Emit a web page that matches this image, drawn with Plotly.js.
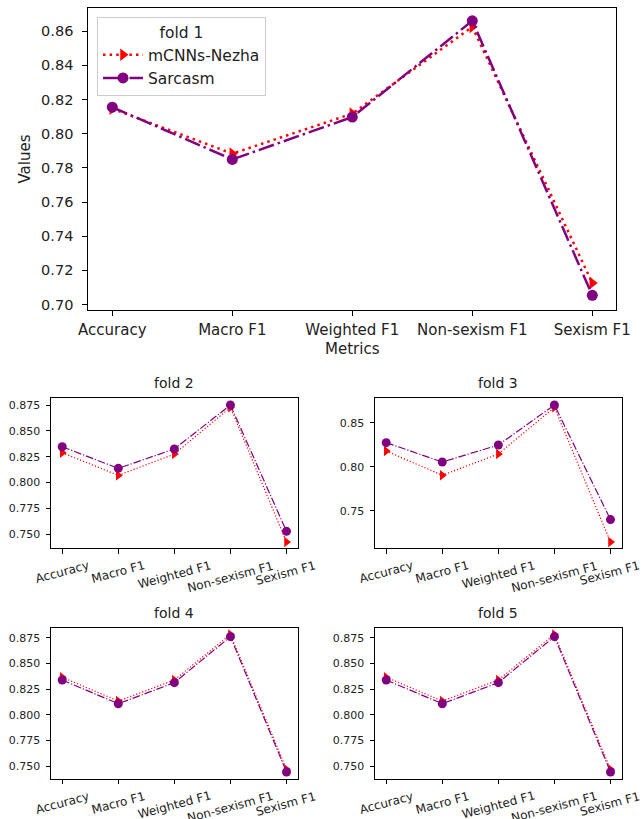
<!DOCTYPE html>
<html><head><meta charset="utf-8">
<script src="https://cdn.plot.ly/plotly-3.0.1.min.js"></script>
<style>html,body{margin:0;padding:0;background:#fff;} #chart{width:644px;height:819px;}</style>
</head><body><div id="chart"></div>
<script>
const metrics = ["Accuracy", "Macro F1", "Weighted F1", "Non-sexism F1", "Sexism F1"];
const seriesNames = ["mCNNs-Nezha", "Sarcasm"];
const foldTitles = ["fold 1", "fold 2", "fold 3", "fold 4", "fold 5"];

const fold1_mcnns   = [0.8146, 0.7883, 0.8117, 0.8625, 0.7126];
const fold1_sarcasm = [0.8155, 0.7849, 0.8097, 0.8660, 0.7054];
const fold2_mcnns   = [0.8289, 0.8070, 0.8276, 0.8727, 0.7426];
const fold2_sarcasm = [0.8347, 0.8138, 0.8325, 0.8750, 0.7529];
const fold3_mcnns   = [0.8178, 0.7902, 0.8144, 0.8674, 0.7144];
const fold3_sarcasm = [0.8273, 0.8053, 0.8246, 0.8701, 0.7398];
const fold4_mcnns   = [0.8364, 0.8133, 0.8338, 0.8782, 0.7468];
const fold4_sarcasm = [0.8338, 0.8107, 0.8312, 0.8760, 0.7442];
const fold5_mcnns   = [0.8364, 0.8133, 0.8338, 0.8782, 0.7468];
const fold5_sarcasm = [0.8338, 0.8107, 0.8312, 0.8760, 0.7442];

const FONT = "DejaVu Sans, sans-serif";
const TXT = "#222";
const W = 644, H = 819;
const RED = "red", PURPLE = "purple";

function px2x(a, b) { return [a / W, b / W]; }
function px2y(top, bottom) { return [1 - bottom / H, 1 - top / H]; }

// panel geometry (pixels)
const panels = [
  {xd: px2x(88.3, 616.3), yd: px2y(7.5, 309.5), range: [0.6971, 0.8738], dtick: 0.02, fmt: ".2f", start: 0.70},
  {xd: px2x(51, 297.7),   yd: px2y(397.7, 548.3), range: [0.7365, 0.8821], dtick: 0.025, fmt: ".3f", start: 0.75},
  {xd: px2x(375, 621.7),  yd: px2y(397.7, 548.3), range: [0.7072, 0.8784], dtick: 0.05, fmt: ".2f", start: 0.75},
  {xd: px2x(51, 297.7),   yd: px2y(627.7, 778.7), range: [0.7377, 0.8847], dtick: 0.025, fmt: ".3f", start: 0.75},
  {xd: px2x(375, 621.7),  yd: px2y(627.7, 778.7), range: [0.7377, 0.8847], dtick: 0.025, fmt: ".3f", start: 0.75}
];
const mcnnsData = [fold1_mcnns, fold2_mcnns, fold3_mcnns, fold4_mcnns, fold5_mcnns];
const sarcasmData = [fold1_sarcasm, fold2_sarcasm, fold3_sarcasm, fold4_sarcasm, fold5_sarcasm];

const traces = [];
const layout = {
  width: W, height: H, autosize: false,
  margin: {l: 0, r: 0, t: 0, b: 0, pad: 0},
  paper_bgcolor: "#fff", plot_bgcolor: "#fff",
  font: {family: FONT, color: TXT},
  showlegend: true,
  legend: {
    x: 97 / W, y: 1 - 17 / H, xanchor: "left", yanchor: "top",
    bgcolor: "rgba(255,255,255,0.85)", bordercolor: "#cccccc", borderwidth: 1,
    font: {family: FONT, size: 15.5, color: TXT},
    title: {text: foldTitles[0], side: "top center", font: {family: FONT, size: 15.5, color: TXT}},
    itemwidth: 40, tracegroupgap: 0
  },
  annotations: []
};

panels.forEach((p, i) => {
  const n = i + 1;
  const xa = n === 1 ? "x" : "x" + n;
  const ya = n === 1 ? "y" : "y" + n;
  const big = n === 1;
  const lw = big ? 2.5 : 1.2;
  const ms = big ? 11 : 9;
  traces.push({
    type: "scatter", mode: "lines+markers", name: seriesNames[0],
    x: metrics, y: mcnnsData[i], xaxis: xa, yaxis: ya, showlegend: big,
    line: {color: RED, width: lw, dash: big ? "2.5px,4.1px" : "1.2px,2px"},
    marker: {symbol: "triangle-right", size: ms, color: RED}
  });
  traces.push({
    type: "scatter", mode: "lines+markers", name: seriesNames[1],
    x: metrics, y: sarcasmData[i], xaxis: xa, yaxis: ya, showlegend: big,
    line: {color: PURPLE, width: lw, dash: big ? "16px,4px,2.5px,4px" : "7.7px,1.9px,1.2px,1.9px"},
    marker: {symbol: "circle", size: ms, color: PURPLE}
  });
  const axBase = {
    showline: true, mirror: true, linecolor: "#000", linewidth: 1,
    ticks: "outside", ticklen: big ? 5 : 4.5, tickwidth: 1, tickcolor: "#000",
    showgrid: false, zeroline: false, fixedrange: true
  };
  layout[n === 1 ? "xaxis" : "xaxis" + n] = Object.assign({}, axBase, {
    domain: p.xd, anchor: ya, type: "category", range: [-0.2, 4.2],
    showticklabels: big, tickfont: {family: FONT, size: 15, color: TXT},
    ticklabelstandoff: 1
  });
  layout[n === 1 ? "yaxis" : "yaxis" + n] = Object.assign({}, axBase, {
    domain: p.yd, anchor: xa, range: p.range, tick0: p.start, dtick: p.dtick,
    tickformat: p.fmt, tickfont: {family: FONT, size: big ? 14.5 : 11, color: TXT},
    ticklabelstandoff: big ? 6 : 3
  });
  if (!big) {
    // subplot title
    layout.annotations.push({
      text: foldTitles[i], xref: "paper", yref: "paper",
      x: (p.xd[0] + p.xd[1]) / 2, y: p.yd[1], yshift: 5,
      xanchor: "center", yanchor: "bottom", showarrow: false,
      font: {family: FONT, size: 14, color: TXT}
    });
    // rotated category labels, centred on each tick
    metrics.forEach(m => {
      layout.annotations.push({
        text: m, xref: xa, yref: "paper", x: m, y: p.yd[0], yshift: -9,
        xanchor: "center", yanchor: "top", textangle: -15, showarrow: false,
        borderpad: 0, font: {family: FONT, size: 12, color: TXT}
      });
    });
  }
});

// axis titles of the first panel
layout.annotations.push({
  text: "Metrics", xref: "paper", yref: "paper",
  x: (panels[0].xd[0] + panels[0].xd[1]) / 2, y: 1 - 349 / H,
  xanchor: "center", yanchor: "middle", showarrow: false,
  font: {family: FONT, size: 15, color: TXT}
});
layout.annotations.push({
  text: "Values", xref: "paper", yref: "paper",
  x: 25 / W, y: (panels[0].yd[0] + panels[0].yd[1]) / 2,
  xanchor: "center", yanchor: "middle", textangle: -90, showarrow: false,
  font: {family: FONT, size: 15, color: TXT}
});

Plotly.newPlot("chart", traces, layout, {displayModeBar: false, staticPlot: true});
</script>
</body></html>
